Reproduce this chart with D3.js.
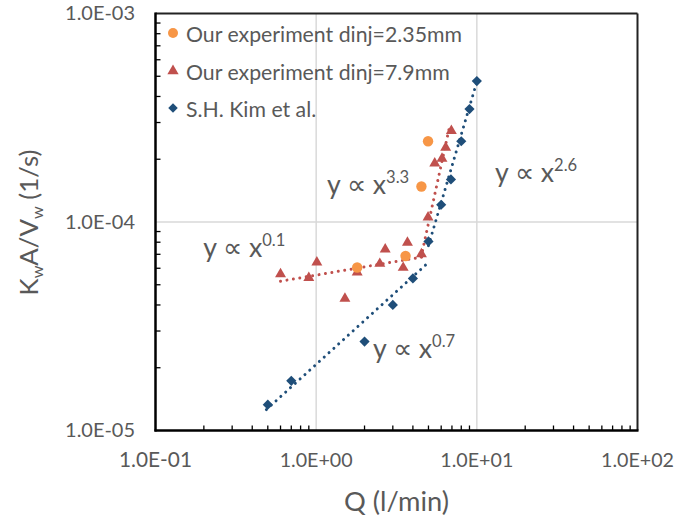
<!DOCTYPE html>
<html><head><meta charset="utf-8">
<script src="https://cdn.jsdelivr.net/npm/d3@7"></script>
<style>body{margin:0;background:#fff}text{font-family:Lato,"Open Sans",sans-serif;fill:#595959}</style>
</head><body><svg id="c" width="696" height="519"></svg>
<script>
// data
const ourSmallQ = [1.80, 3.60, 4.52, 4.97];
const ourSmallK = [6.05e-5, 6.87e-5, 1.48e-4, 2.44e-4];
const ourLargeQ = [0.60, 0.90, 1.01, 1.51, 1.80, 2.49, 2.69, 3.48, 3.70, 4.52, 4.97, 5.47, 6.07, 6.40, 6.94];
const ourLargeK = [5.56e-5, 5.34e-5, 6.33e-5, 4.25e-5, 5.67e-5, 6.24e-5, 7.31e-5, 5.97e-5, 7.87e-5, 6.94e-5, 1.04e-4, 1.89e-4, 1.99e-4, 2.25e-4, 2.71e-4];
const kimQ = [0.50, 0.70, 2.0, 3.0, 4.0, 5.0, 6.0, 6.9, 8.0, 9.0, 10.0];
const kimK = [1.33e-5, 1.73e-5, 2.67e-5, 4.0e-5, 5.36e-5, 8.07e-5, 1.21e-4, 1.60e-4, 2.44e-4, 3.48e-4, 4.74e-4];
// trend lines: [x0, y0, x1, y1]
const trendRed1 = [0.6, 5.2e-5, 4.6, 6.8e-5];
const trendRed2 = [4.5, 6.8e-5, 6.8, 2.92e-4];
const trendBlue1 = [0.49, 1.26e-5, 5.0, 6.4e-5];
const trendBlue2 = [5.0, 7.7e-5, 10.0, 4.7e-4];
const xTicks = [0.1, 1, 10, 100];
const xTickLabels = ["1.0E-01", "1.0E+00", "1.0E+01", "1.0E+02"];
const yTicks = [1e-5, 1e-4, 1e-3];
const yTickLabels = ["1.0E-05", "1.0E-04", "1.0E-03"];
const legendLabels = ["Our experiment dinj=2.35mm", "Our experiment dinj=7.9mm", "S.H. Kim et al."];
const annotQ = [0.198, 1.168, 12.97, 2.258];
const annotK = [6.79e-5, 1.36e-4, 1.556e-4, 2.23e-5];
const annotExp = ["0.1", "3.3", "2.6", "0.7"];

const colOrange = "#F79646", colRed = "#C0504D", colBlue = "#1F4E79";
const svg = d3.select("#c");
const L = 155.5, R = 637.5, T = 13.5, B = 430.5;
const x = d3.scaleLog().domain([0.1, 100]).range([L, R]);
const y = d3.scaleLog().domain([1e-5, 1e-3]).range([B, T]);

function fit(sel, w) {
  const fs = parseFloat(sel.attr("font-size"));
  const cur = sel.node().getComputedTextLength();
  sel.attr("font-size", (fs * w / cur).toFixed(2));
  return fs * w / cur;
}

// gridlines
[1, 10].forEach(v => svg.append("line").attr("x1", x(v)).attr("x2", x(v)).attr("y1", T).attr("y2", B).attr("stroke", "#D9D9D9").attr("stroke-width", 1.5));
[1e-4].forEach(v => svg.append("line").attr("y1", y(v)).attr("y2", y(v)).attr("x1", L).attr("x2", R).attr("stroke", "#D9D9D9").attr("stroke-width", 1.5));

// minor ticks (inside)
const xMinor = [];
for (let d = 0.1; d < 100; d *= 10) for (let k = 2; k <= 9; k++) xMinor.push(d * k);
const yMinor = [];
for (let d = 1e-5; d < 1e-3; d *= 10) for (let k = 2; k <= 9; k++) yMinor.push(d * k);
xMinor.forEach(v => svg.append("line").attr("x1", x(v)).attr("x2", x(v)).attr("y1", B).attr("y2", B - 5).attr("stroke", "#000").attr("stroke-width", 1.3));
yMinor.forEach(v => svg.append("line").attr("y1", y(v)).attr("y2", y(v)).attr("x1", L).attr("x2", L + 5).attr("stroke", "#000").attr("stroke-width", 1.3));

// frame
svg.append("line").attr("x1", L).attr("x2", R).attr("y1", T).attr("y2", T).attr("stroke", "#222").attr("stroke-width", 2);
svg.append("line").attr("x1", R).attr("x2", R).attr("y1", T).attr("y2", B).attr("stroke", "#222").attr("stroke-width", 2);
svg.append("line").attr("x1", L).attr("x2", L).attr("y1", T - 1).attr("y2", B + 1).attr("stroke", "#000").attr("stroke-width", 2.5);
svg.append("line").attr("x1", L - 1).attr("x2", R + 1).attr("y1", B).attr("y2", B).attr("stroke", "#000").attr("stroke-width", 2.5);

// tick labels
xTicks.forEach((v, i) => { const t = svg.append("text").attr("x", x(v)).attr("y", 467).attr("text-anchor", "middle").attr("font-size", 19).text(xTickLabels[i]); fit(t, 73); });
yTicks.forEach((v, i) => { const t = svg.append("text").attr("x", 135).attr("y", y(v) + 6.5).attr("text-anchor", "end").attr("font-size", 19).text(yTickLabels[i]); fit(t, 70); });

// axis titles
const xt = svg.append("text").attr("x", 396.5).attr("y", 511).attr("text-anchor", "middle").attr("font-size", 24).text("Q (l/min)");
fit(xt, 105);
const yt = svg.append("text").attr("transform", "translate(38,222.5) rotate(-90)").attr("text-anchor", "middle").attr("font-size", 24);
yt.append("tspan").text("K");
yt.append("tspan").attr("font-size", 15).attr("dy", 5).text("w");
yt.append("tspan").attr("dy", -5).text("A/V");
yt.append("tspan").attr("font-size", 15).attr("dy", 5).text("w");
yt.append("tspan").attr("dy", -5).text(" (1/s)");
{ const cur = yt.node().getComputedTextLength(); const k = 146 / cur;
  yt.attr("font-size", 24 * k); yt.selectAll("tspan").filter(function(){return this.getAttribute("font-size");}).attr("font-size", 15 * k); }

// trendlines
function trend(t, col) {
  svg.append("line").attr("x1", x(t[0])).attr("y1", y(t[1])).attr("x2", x(t[2])).attr("y2", y(t[3]))
    .attr("stroke", col).attr("stroke-width", 3).attr("stroke-linecap", "round").attr("stroke-dasharray", "0.01 6.5");
}
trend(trendRed1, colRed); trend(trendRed2, colRed);
trend(trendBlue1, colBlue); trend(trendBlue2, colBlue);

// markers
const tri = d3.symbol().type(d3.symbolTriangle).size(52);
const dia = d3.symbol().type(d3.symbolSquare).size(52);
kimQ.forEach((q, i) => svg.append("path").attr("d", dia).attr("transform", `translate(${x(q)},${y(kimK[i])}) rotate(45)`).attr("fill", colBlue));
ourLargeQ.forEach((q, i) => svg.append("path").attr("d", tri).attr("transform", `translate(${x(q)},${y(ourLargeK[i]) - 1})`).attr("fill", colRed));
ourSmallQ.forEach((q, i) => svg.append("circle").attr("cx", x(q)).attr("cy", y(ourSmallK[i])).attr("r", 5.2).attr("fill", colOrange));

// annotations
annotQ.forEach((q, i) => {
  const t = svg.append("text").attr("x", x(q)).attr("y", y(annotK[i])).attr("font-size", 24);
  const b = t.append("tspan").text("y ∝ x");
  const bw = b.node().getComputedTextLength();
  const fs = 24 * 59 / bw;
  t.attr("font-size", fs);
  t.append("tspan").attr("font-size", fs * 0.62).attr("dy", -fs * 0.42).text(annotExp[i]);
});

// legend
const ly = [33, 71, 108];
svg.append("circle").attr("cx", 173).attr("cy", ly[0]).attr("r", 5).attr("fill", colOrange);
svg.append("path").attr("d", d3.symbol().type(d3.symbolTriangle).size(55)).attr("transform", `translate(173,${ly[1]})`).attr("fill", colRed);
svg.append("path").attr("d", d3.symbol().type(d3.symbolSquare).size(45)).attr("transform", `translate(173,${ly[2]}) rotate(45)`).attr("fill", colBlue);
const lt = legendLabels.map((s, i) => svg.append("text").attr("x", 186).attr("y", ly[i] + 8.5).attr("font-size", 22).text(s));
const lfs = fit(lt[0], 276);
lt.forEach(t => t.attr("font-size", lfs.toFixed(2)));
</script></body></html>
